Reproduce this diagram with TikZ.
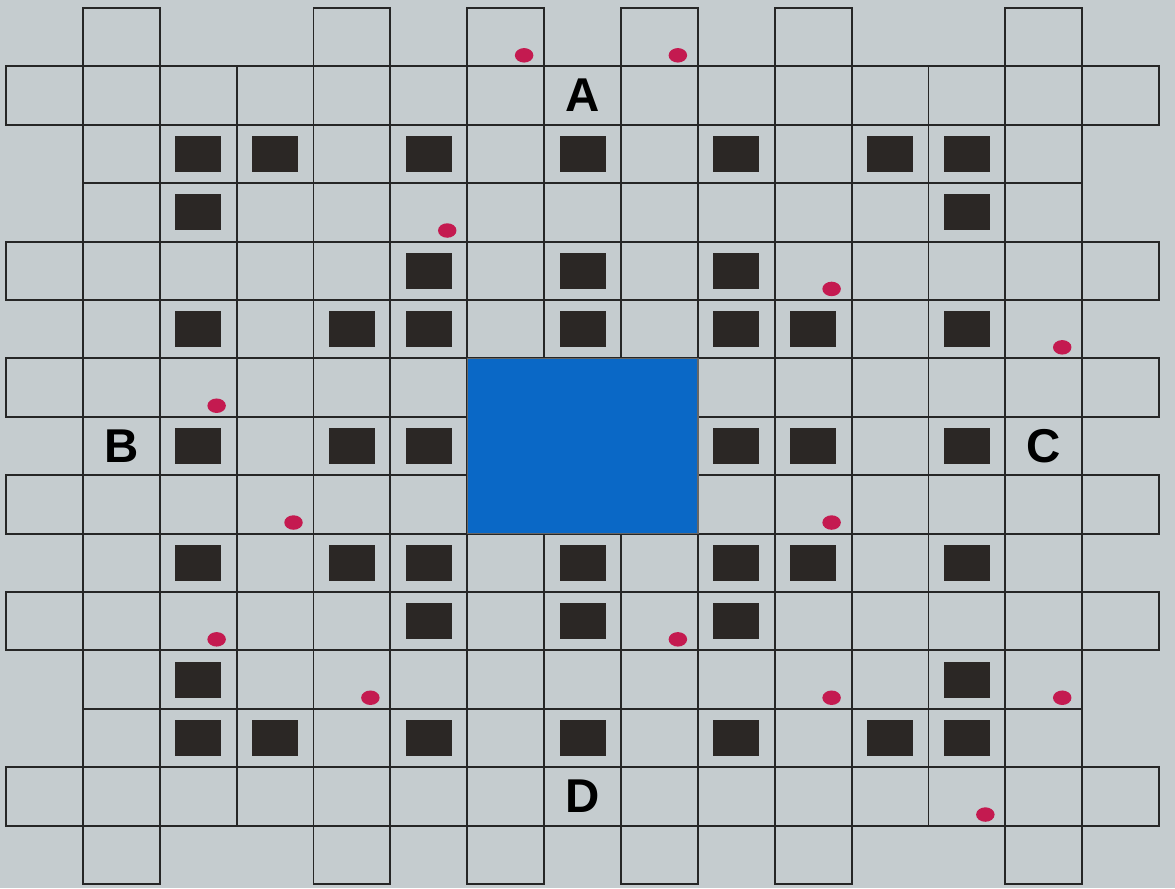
\documentclass[tikz,border=0pt]{standalone}
\usepackage{fontspec}
\setmainfont{Liberation Sans}
\usepackage{xcolor}
\usepackage{tikz}
\usetikzlibrary{shapes.geometric}
\definecolor{paper}{RGB}{197,204,207}
\definecolor{blockgray}{RGB}{43,39,37}
\definecolor{coreblue}{RGB}{10,104,198}
\definecolor{dotred}{RGB}{196,26,80}
\tikzset{
  cell/.style={draw=black!85, line width=1.1pt},
  core/.style={fill=coreblue, draw=black!60, line width=0.8pt},
  block/.style={fill=blockgray, minimum width=0.92cm, minimum height=0.72cm, inner sep=0pt},
  dot/.style={ellipse, fill=dotred, minimum width=0.37cm, minimum height=0.29cm, inner sep=0pt},
  sidelabel/.style={font=\fontsize{27}{27}\selectfont\bfseries, inner sep=0pt}
}

\begin{document}
\begin{tikzpicture}[x=1.5374cm, y=-1.168cm]
  \useasboundingbox[fill=paper] (-0.078,-0.137) rectangle (15.207,15.068);

  % inner grid and the tabs round it
  \foreach \r in {1,...,13}
    \foreach \c in {1,...,13}
      {\draw[cell] (\c,\r) rectangle ++(1,1);}
  \foreach \k in {1,4,6,8,10,13}
    {\draw[cell] (\k,0) rectangle ++(1,1);
     \draw[cell] (\k,14) rectangle ++(1,1);
     \draw[cell] (0,\k) rectangle ++(1,1);
     \draw[cell] (14,\k) rectangle ++(1,1);}

  \draw[core] (6,6) rectangle (9,9);

  % black blocks, row / columns
  \foreach \r/\cols in {2/{2,3,5,7,9,11,12}, 3/{2,12}, 4/{5,7,9}, 5/{2,4,5,7,9,10,12},
                        7/{2,4,5,9,10,12}, 9/{2,4,5,7,9,10,12}, 10/{5,7,9},
                        11/{2,12}, 12/{2,3,5,7,9,11,12}}
    \foreach \c in \cols
      {\node[block] (blk-\r-\c) at (\c+0.5,\r+0.5) {};}

  % red dots, column / row
  \foreach \c/\r in {6/0, 8/0, 5/3, 10/4, 13/5, 2/6, 3/8, 10/8, 2/10, 8/10, 4/11, 10/11, 13/11, 12/13}
    {\node[dot] (dot-\c-\r) at (\c+0.74,\r+0.81) {};}

  \node[sidelabel] (lblA) at (7.5,1.5) {A};
  \node[sidelabel] (lblB) at (1.5,7.5) {B};
  \node[sidelabel] (lblC) at (13.5,7.5) {C};
  \node[sidelabel] (lblD) at (7.5,13.5) {D};
\end{tikzpicture}
\end{document}
